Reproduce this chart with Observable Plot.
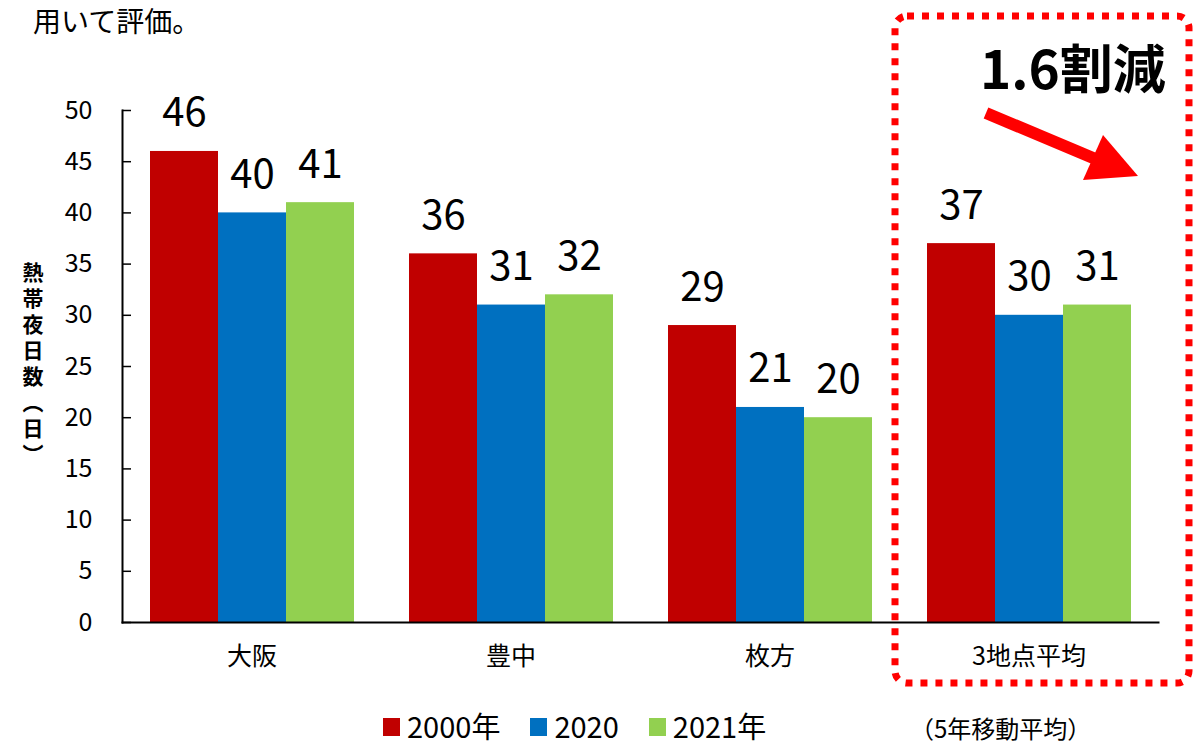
<!DOCTYPE html>
<html><head><meta charset="utf-8">
<script src="https://cdn.jsdelivr.net/npm/d3@7"></script>
<script src="https://cdn.jsdelivr.net/npm/@observablehq/plot@0.6"></script>
<style>
body{margin:0;background:#fff;font-family:"Noto Sans CJK JP",sans-serif;color:#000;}
#wrap{position:relative;width:1199px;height:746px;overflow:hidden;background:#fff;}
#chart{position:absolute;left:0;top:0;}
#toptext{position:absolute;left:33px;top:0px;font-size:28px;line-height:normal;}
#ylabel{position:absolute;left:20px;top:262px;writing-mode:vertical-rl;font-size:21px;font-weight:bold;letter-spacing:5px;line-height:26px;}
#legend{position:absolute;left:383px;top:704px;display:flex;align-items:center;font-size:29px;line-height:normal;}
#legend .item{display:flex;align-items:center;margin-right:30px;}
#legend .sw{width:17px;height:18px;margin-right:7px;margin-top:4px;}
#note{position:absolute;left:910px;top:710px;font-size:24px;line-height:normal;}
#overlay{position:absolute;left:0;top:0;pointer-events:none;}
</style></head><body><div id="wrap">
<div id="toptext">用いて評価。</div>
<div id="chart"></div>
<div id="ylabel">熱帯夜日数（日）</div>
<div id="legend"></div>
<div id="note">（5年移動平均）</div>
</div>
<script>
const categories = ["大阪", "豊中", "枚方", "3地点平均"];
const seriesNames = ["2000年", "2020", "2021年"];
const values2000 = [46, 36, 29, 37];
const values2020 = [40, 31, 21, 30];
const values2021 = [41, 32, 20, 31];
const seriesColors = ["#C00000", "#0070C0", "#92D050"];
const yTicks = [0, 5, 10, 15, 20, 25, 30, 35, 40, 45, 50];
const annotationText = "1.6割減";

const seriesValues = [values2000, values2020, values2021];
const data = categories.flatMap((c, i) => seriesValues.map((v, j) => ({category: c, series: seriesNames[j], value: v[i]})));

const font = "'Noto Sans CJK JP', sans-serif";
const chart = Plot.plot({
  width: 1199, height: 690,
  marginTop: 110, marginBottom: 68, marginLeft: 122, marginRight: 41,
  style: {fontFamily: font, color: "#000", background: "transparent", overflow: "visible"},
  fx: {domain: categories, padding: 0, label: null},
  x: {domain: seriesNames, paddingInner: 0, paddingOuter: 0.377, axis: null},
  y: {domain: [0, 50], label: null, axis: null},
  color: {domain: seriesNames, range: seriesColors},
  marks: [
    Plot.barY(data, {fx: "category", x: "series", y: "value", fill: "series", inset: 0}),
    Plot.text(data, {fx: "category", x: "series", y: "value", text: d => String(d.value), lineAnchor: "bottom", dy: -25, fontSize: 40, fill: "#000"}),
    Plot.axisY({ticks: yTicks, tickSize: -9, tickPadding: 39, fontSize: 25, anchor: "left", label: null, stroke: "#000", strokeWidth: 1.5}),
    Plot.axisFx({tickSize: 0, tickPadding: 25, fontSize: 25, anchor: "bottom", label: null}),
    Plot.frame({anchor: "bottom", facet: "super", stroke: "#000", strokeWidth: 2}),
    Plot.frame({anchor: "left", facet: "super", stroke: "#000", strokeWidth: 2})
  ]
});
document.getElementById("chart").appendChild(chart);

// legend
const legend = document.getElementById("legend");
seriesNames.forEach((s, i) => {
  const it = document.createElement("div"); it.className = "item";
  const sw = document.createElement("div"); sw.className = "sw"; sw.style.background = seriesColors[i];
  const tx = document.createElement("span"); tx.textContent = s;
  it.appendChild(sw); it.appendChild(tx); legend.appendChild(it);
});

// annotation overlay
const ov = d3.select("#wrap").append("svg").attr("id", "overlay").attr("width", 1199).attr("height", 746);
ov.append("rect").attr("x", 895).attr("y", 16).attr("width", 294).attr("height", 667).attr("rx", 12)
  .attr("fill", "none").attr("stroke", "#FF0000").attr("stroke-width", 7).attr("stroke-dasharray", "7 8");
ov.append("line").attr("x1", 986).attr("y1", 113).attr("x2", 1105).attr("y2", 163)
  .attr("stroke", "#FF0000").attr("stroke-width", 12);
ov.append("polygon").attr("points", "1138,176 1103,135 1083,180").attr("fill", "#FF0000");
ov.append("text").attr("x", 980).attr("y", 89).attr("font-size", 53).attr("font-weight", "bold")
  .attr("font-family", font).attr("fill", "#000").text(annotationText);
</script>
</body></html>
